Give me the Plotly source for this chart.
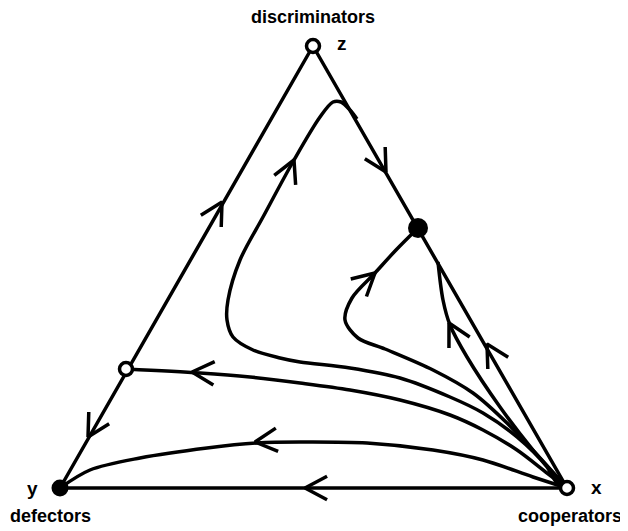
import numpy as np
import plotly.graph_objects as go

# picture coordinates (pixels, y downward)
corner_x = [60, 567, 313, 60]
corner_y = [488, 488, 46, 488]

# trajectories leaving x
hook_x = [567, 540, 507, 473, 433, 385, 358, 345, 352, 375, 396, 418]
hook_y = [488, 458, 423, 393, 370, 349, 338, 320, 298, 273, 250, 228]

loop_x = [567, 557, 547, 517, 483, 450, 400, 350, 300, 280, 253, 233, 227, 228, 240, 263, 294, 320, 333, 341, 350, 357]
loop_y = [488, 483, 467, 437, 413, 397, 378, 368, 362, 358, 350, 337, 320, 300, 260, 217, 160, 117, 102, 102, 110, 119]

saddle_x = [126, 200, 250, 300, 350, 400, 450, 483, 517, 547, 567]
saddle_y = [369, 373, 377, 383, 390, 400, 415, 430, 450, 473, 488]

low_x = [60, 90, 140, 207, 257, 300, 367, 433, 483, 533, 567]
low_y = [488, 470, 458, 448, 443, 442, 443, 450, 460, 477, 488]

edge_x = [567, 533, 500, 467, 450, 443, 438]
edge_y = [488, 450, 407, 357, 325, 300, 262]

# arrow heads: tip and direction of flow
arrow_x = [305, 88, 222, 386, 487, 449, 375, 294, 192, 255]
arrow_y = [488, 437, 202, 172, 344, 323, 273, 160, 372, 442]
arrow_dx = [-1, -253, 253, 254, -254, -18, 1, 9, -17, -20]
arrow_dy = [0, 442, -442, 442, -442, -34, -0.9, -20, -1, 2]

open_x = [313, 567, 126]
open_y = [46, 488, 369]
full_x = [60, 418]
full_y = [488, 228]

labels = ["discriminators", "z", "y", "defectors", "x", "cooperators"]
label_x = [313, 342, 32, 50, 596, 570]
label_y = [17, 43, 488, 516, 487, 516]
label_size = [18, 19, 19, 18, 19, 18]

fig = go.Figure()
line = dict(color="black", width=3.5)

fig.add_trace(go.Scatter(x=corner_x, y=corner_y, mode="lines", line=line))
for cx, cy in [(hook_x, hook_y), (loop_x, loop_y), (saddle_x, saddle_y), (low_x, low_y), (edge_x, edge_y)]:
    fig.add_trace(go.Scatter(x=cx, y=cy, mode="lines",
                             line=dict(color="black", width=3.5, shape="spline", smoothing=0.9)))

# arrow heads as open chevrons
L, ang = 25, np.radians(28)
for ax, ay, dx, dy in zip(arrow_x, arrow_y, arrow_dx, arrow_dy):
    d = np.array([dx, dy], float)
    d /= np.hypot(*d)
    wings = []
    for s in (ang, -ang):
        r = np.array([[np.cos(s), -np.sin(s)], [np.sin(s), np.cos(s)]])
        wings.append(np.array([ax, ay]) - L * r.dot(d))
    fig.add_trace(go.Scatter(x=[wings[0][0], ax, wings[1][0]], y=[wings[0][1], ay, wings[1][1]],
                             mode="lines", line=line))

fig.add_trace(go.Scatter(x=open_x, y=open_y, mode="markers",
                         marker=dict(size=13, color="white", opacity=1,
                                     line=dict(color="black", width=3.5))))
fig.add_trace(go.Scatter(x=full_x, y=full_y, mode="markers",
                         marker=dict(size=[17, 20], color="black", opacity=1,
                                     line=dict(color="black", width=0))))

for t, tx, ty, ts in zip(labels, label_x, label_y, label_size):
    fig.add_annotation(x=tx, y=ty, text="<b>%s</b>" % t, showarrow=False,
                       font=dict(family="Liberation Sans, Arial", size=ts, color="black"))

# page body has an 8px margin, so the figure starts at pixel 8
fig.update_layout(width=620, height=523, margin=dict(l=0, r=0, t=0, b=0),
                  showlegend=False, plot_bgcolor="white", paper_bgcolor="white")
fig.update_xaxes(range=[8, 628], visible=False)
fig.update_yaxes(range=[531, 8], visible=False)

fig.write_html("out.html")
